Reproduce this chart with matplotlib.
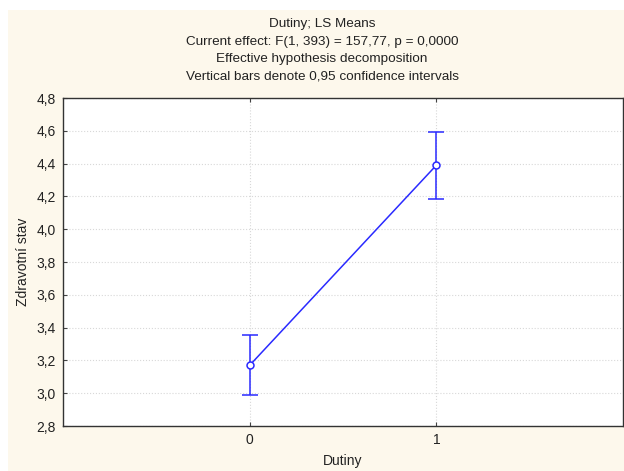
import matplotlib.pyplot as plt
from matplotlib.patches import Rectangle

plt.rcParams['font.family'] = ['Liberation Sans', 'DejaVu Sans']

# LS means with 0.95 confidence intervals
groups = [0, 1]
means = [3.17, 4.39]
ci_low = [2.99, 4.185]
ci_high = [3.355, 4.595]

title_lines = ["Dutiny; LS Means",
               "Current effect: F(1, 393) = 157,77, p = 0,0000",
               "Effective hypothesis decomposition",
               "Vertical bars denote 0,95 confidence intervals"]
yticks = [2.8, 3.0, 3.2, 3.4, 3.6, 3.8, 4.0, 4.2, 4.4, 4.6, 4.8]

W, H = 624, 471
fig = plt.figure(figsize=(W / 100, H / 100), dpi=100)
fig.patch.set_facecolor('white')
# cream panel behind the chart
fig.patches.append(Rectangle((8 / W, 0), 1, 1 - 10 / H, transform=fig.transFigure,
                             facecolor='#fdf8ec', edgecolor='none', zorder=-10))

ax = fig.add_axes([63 / W, 45 / H, 560 / W, 328 / H])
ax.set_facecolor('white')

err_lo = [m - l for m, l in zip(means, ci_low)]
err_hi = [h - m for m, h in zip(means, ci_high)]
ax.errorbar(groups, means, yerr=[err_lo, err_hi], color='#2a2aff', lw=1.1,
            marker='o', ms=5, mfc='white', mec='#2a2aff', mew=1.1,
            capsize=6, capthick=1.1, zorder=3)

ax.set_xlim(-1, 2)
ax.set_ylim(2.8, 4.8)
ax.set_xticks(groups)
ax.set_xticklabels([str(g) for g in groups])
ax.set_yticks(yticks)
ax.set_yticklabels([f"{v:.1f}".replace('.', ',') for v in yticks])
ax.grid(True, color='#d8d8d8', lw=0.8, ls=':')
ax.set_axisbelow(True)
ax.tick_params(direction='in', length=3, width=0.8, labelsize=10, color='#444444',
               labelcolor='#222222', top=True, right=False, pad=5)
for s in ax.spines.values():
    s.set_color('#333333')
    s.set_linewidth(1.0)

ax.set_xlabel("Dutiny", fontsize=10, labelpad=5, color='#222222')
ax.set_ylabel("Zdravotní stav", fontsize=10, labelpad=5, color='#222222')
fig.text(322 / W, 1 - 18 / H, "\n".join(title_lines), fontsize=9.7,
         linespacing=1.62, ha='center', va='top', color='#222222')

fig.savefig("out.png", dpi=100, facecolor=fig.get_facecolor())
